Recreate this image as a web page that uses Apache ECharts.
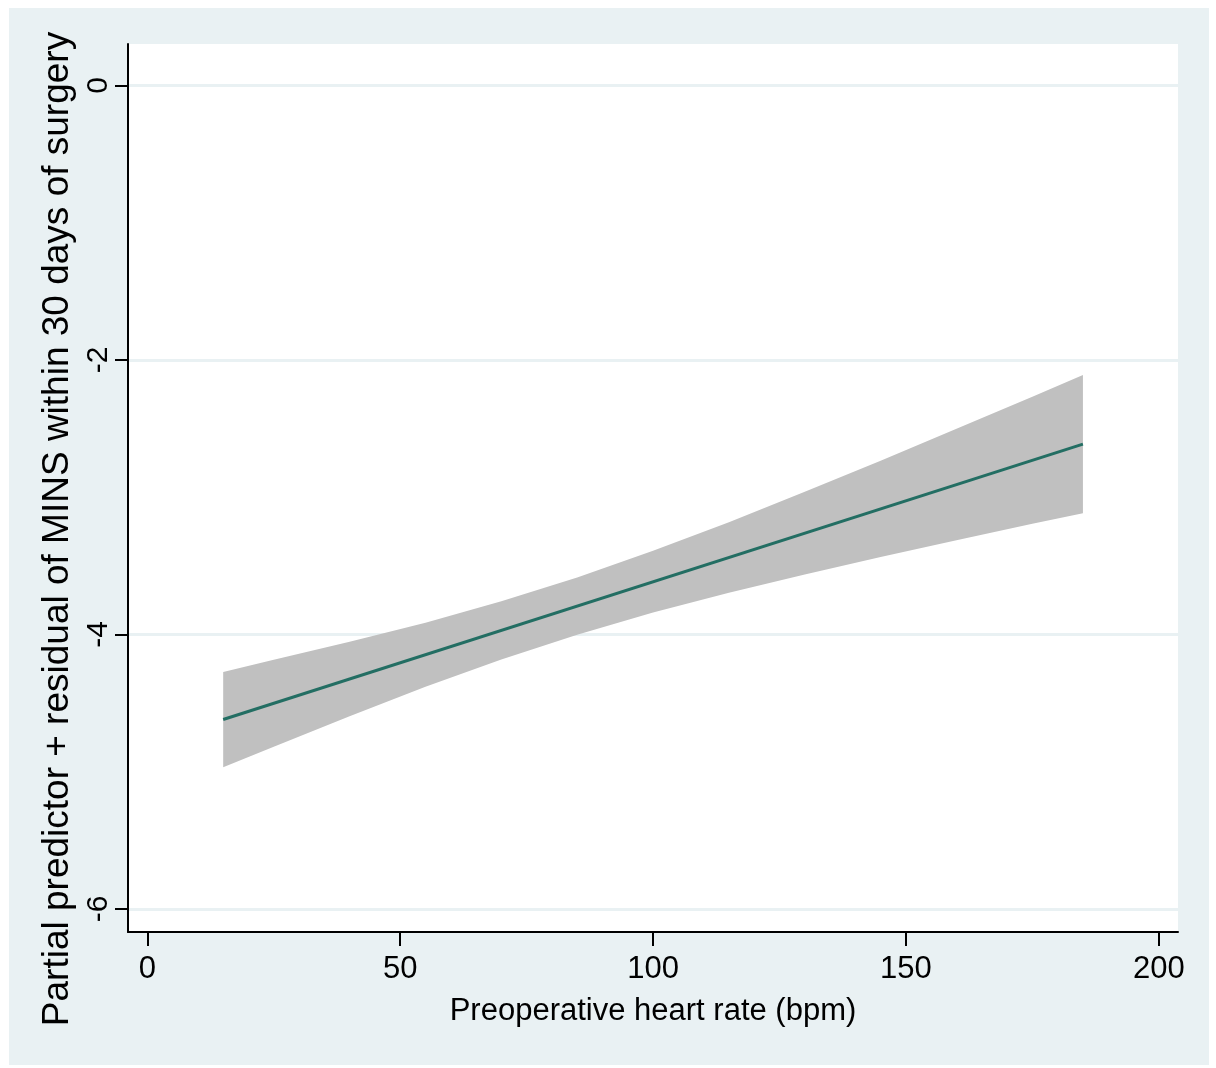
<!DOCTYPE html>
<html>
<head>
<meta charset="utf-8">
<script src="https://cdn.jsdelivr.net/npm/echarts@6/dist/echarts.min.js"></script>
<style>
  html, body { margin: 0; padding: 0; background: #ffffff; overflow: hidden; }
  #chart { width: 1216px; height: 1068px; }
</style>
</head>
<body>
<div id="chart"></div>
<script>
// Fitted partial predictor of MINS against preoperative heart rate
const fitX = [15, 185];
const fitY = [-4.62, -2.613];

// 95% confidence band around the fit
const bandX     = [15,     25,     40,     55,     70,     85,     100,    115,    130,    145,    160,    175,    185];
const bandUpper = [-4.273, -4.185, -4.054, -3.914, -3.759, -3.585, -3.391, -3.182, -2.961, -2.734, -2.502, -2.268, -2.109];
const bandLower = [-4.967, -4.819, -4.596, -4.382, -4.183, -4.003, -3.841, -3.696, -3.563, -3.436, -3.314, -3.194, -3.117];

// Tick values
const xTicks = [0, 50, 100, 150, 200];
const yTicks = [-6, -4, -2, 0];

const FONT = '"Liberation Sans", Arial, Helvetica, sans-serif';
const BG = '#E9F1F3';

const chart = echarts.init(document.getElementById('chart'), null, { renderer: 'canvas' });

chart.setOption({
  backgroundColor: '#ffffff',
  animation: false,
  graphic: [{
    type: 'rect',
    z: -10,
    shape: { x: 9, y: 8, width: 1200, height: 1057 },
    style: { fill: BG }
  }],
  grid: {
    left: 128, right: 38, top: 44, bottom: 136,
    show: true, backgroundColor: '#ffffff', borderWidth: 0
  },
  xAxis: {
    type: 'value',
    min: -3.82, max: 203.8,
    name: 'Preoperative heart rate (bpm)',
    nameLocation: 'middle',
    nameGap: 64,
    nameTextStyle: { fontFamily: FONT, fontSize: 31, color: '#000' },
    axisLine: { show: true, onZero: false, lineStyle: { color: '#000', width: 2 } },
    axisTick: { show: true, length: 14, customValues: xTicks, lineStyle: { color: '#000', width: 2 } },
    axisLabel: { customValues: xTicks, margin: 22, fontFamily: FONT, fontSize: 31, color: '#000' },
    splitLine: { show: false }
  },
  yAxis: {
    type: 'value',
    min: -6.168, max: 0.302,
    name: 'Partial predictor + residual of MINS within 30 days of surgery',
    nameLocation: 'middle',
    nameRotate: 90,
    nameGap: 43,
    nameTextStyle: { fontFamily: FONT, fontSize: 37, color: '#000', padding: [0, 82, 0, 0] },
    axisLine: { show: true, onZero: false, lineStyle: { color: '#000', width: 2 } },
    axisTick: { show: true, length: 13, customValues: yTicks, lineStyle: { color: '#000', width: 2 } },
    axisLabel: { customValues: yTicks, rotate: 90, margin: 14, fontFamily: FONT, fontSize: 30, color: '#000' },
    splitLine: { show: true, lineStyle: { color: BG, width: 3 } }
  },
  series: [
    {
      name: 'CI',
      type: 'custom',
      data: [[bandX[0], bandUpper[0]]],
      encode: { x: 0, y: 1 },
      z: 2,
      renderItem: function (params, api) {
        const pts = [];
        for (let i = 0; i < bandX.length; i++) pts.push(api.coord([bandX[i], bandUpper[i]]));
        for (let i = bandX.length - 1; i >= 0; i--) pts.push(api.coord([bandX[i], bandLower[i]]));
        return {
          type: 'polygon',
          shape: { points: pts },
          style: { fill: '#C0C0C0' }
        };
      }
    },
    {
      name: 'Fit',
      type: 'line',
      z: 3,
      data: fitX.map((x, i) => [x, fitY[i]]),
      showSymbol: false,
      lineStyle: { color: '#236E63', width: 3 }
    }
  ]
});
</script>
</body>
</html>
